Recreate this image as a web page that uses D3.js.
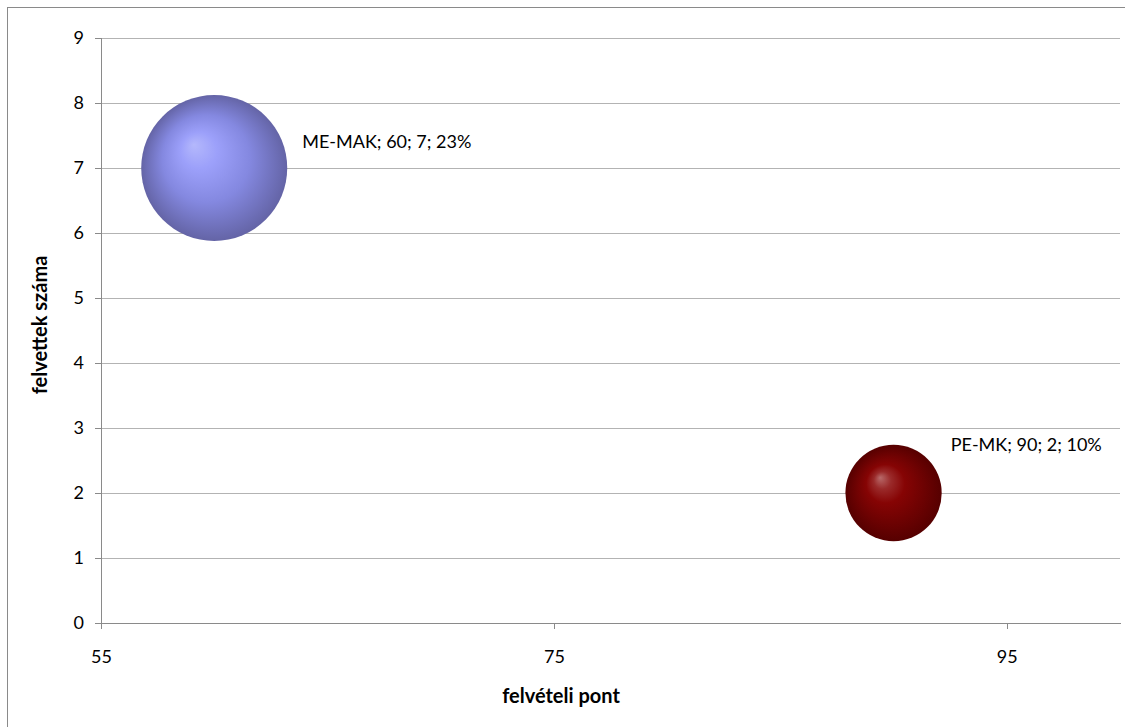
<!DOCTYPE html>
<html><head><meta charset="utf-8">
<script src="https://cdn.jsdelivr.net/npm/d3@7"></script>
<style>html,body{margin:0;padding:0;background:#fff;}svg{display:block;}</style>
</head><body>
<script>
const names = ["ME-MAK", "PE-MK"];
const points = [60, 90];
const counts = [7, 2];
const shares = [23, 10];
const xTicks = [55, 75, 95];
const yTicks = [0,1,2,3,4,5,6,7,8,9];
const xTitle = "felvételi pont";
const yTitle = "felvettek száma";

const W = 1125, H = 727;
const font = "Lato, 'Open Sans', sans-serif";
const svg = d3.select("body").append("svg").attr("width", W).attr("height", H);

// outer border
svg.append("rect").attr("x", 7.5).attr("y", 7.5).attr("width", W + 10).attr("height", H + 10)
  .attr("fill", "#fff").attr("stroke", "#8a8a8a").attr("stroke-width", 1);

const L = 101, R = 1120, T = 38, B = 623;
const x = d3.scaleLinear().domain([55, 100]).range([L, R]);
const y = d3.scaleLinear().domain([0, 9]).range([B, T]);
const r = d3.scaleSqrt().domain([0, 23]).range([0, 73]);

const defs = svg.append("defs");
const grads = [
  {id: "g0", stops: [["0%", "#b4b8fc"], ["25%", "#9ca0fa"], ["60%", "#8488e0"], ["100%", "#6464a6"]]},
  {id: "g1", stops: [["0%", "#b86a6a"], ["18%", "#9a2a2a"], ["40%", "#860404"], ["100%", "#560000"]]}
];
grads.forEach(g => {
  const rg = defs.append("radialGradient").attr("id", g.id)
    .attr("cx", "0.5").attr("cy", "0.5").attr("r", "0.5")
    .attr("fx", "0.36").attr("fy", "0.34");
  g.stops.forEach(s => rg.append("stop").attr("offset", s[0]).attr("stop-color", s[1]));
});

// gridlines
svg.append("g").selectAll("line").data(yTicks.filter(d => d > 0)).join("line")
  .attr("x1", L).attr("x2", R).attr("y1", d => y(d)).attr("y2", d => y(d))
  .attr("stroke", "#b3b3b3").attr("stroke-width", 1).attr("shape-rendering", "crispEdges");

// y axis
const yAxis = svg.append("g").attr("transform", `translate(${L},0)`)
  .call(d3.axisLeft(y).tickValues(yTicks).tickSize(6).tickPadding(11));
yAxis.select(".domain").attr("stroke", "#8a8a8a").attr("shape-rendering", "crispEdges");
yAxis.selectAll(".tick line").attr("stroke", "#8a8a8a").attr("shape-rendering", "crispEdges");
yAxis.selectAll("text").attr("font-family", font).attr("font-size", 18).attr("fill", "#000");

// x axis
const xAxis = svg.append("g").attr("transform", `translate(0,${B})`)
  .call(d3.axisBottom(x).tickValues(xTicks).tickSize(6).tickPadding(21).tickSizeOuter(0));
xAxis.select(".domain").attr("stroke", "#8a8a8a").attr("shape-rendering", "crispEdges");
xAxis.selectAll(".tick line").attr("stroke", "#8a8a8a").attr("shape-rendering", "crispEdges");
xAxis.selectAll("text").attr("font-family", font).attr("font-size", 18).attr("fill", "#000");

// bubbles
const data = names.map((n, i) => ({n, p: points[i], c: counts[i], s: shares[i], i}));
svg.append("g").selectAll("circle").data(data).join("circle")
  .attr("cx", d => x(d.p)).attr("cy", d => y(d.c)).attr("r", d => r(d.s))
  .attr("fill", d => `url(#g${d.i})`);

// labels
svg.append("g").selectAll("text").data(data).join("text")
  .attr("x", d => x(d.p) + r(d.s) + (d.i === 0 ? 15 : 9))
  .attr("y", d => d.i === 0 ? y(d.c) - 20 : y(d.c) - 42)
  .attr("font-family", font).attr("font-size", 18).attr("fill", "#000")
  .text(d => `${d.n}; ${d.p}; ${d.c}; ${d.s}%`);

// titles
svg.append("text").attr("x", 561).attr("y", 703).attr("text-anchor", "middle")
  .attr("font-family", font).attr("font-size", 20).attr("font-weight", "bold").text(xTitle);
svg.append("text").attr("transform", `translate(47,325) rotate(-90)`)
  .attr("text-anchor", "middle")
  .attr("font-family", font).attr("font-size", 20).attr("font-weight", "bold").text(yTitle);
</script>
</body></html>
